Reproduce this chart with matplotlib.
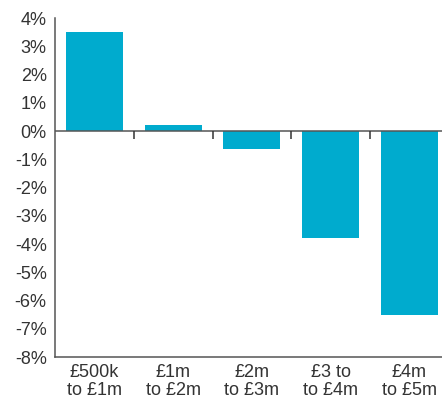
import matplotlib.pyplot as plt
import numpy as np

categories = ["£500k\nto £1m", "£1m\nto £2m", "£2m\nto £3m", "£3 to\nto £4m", "£4m\nto £5m"]
values = [3.5, 0.2, -0.65, -3.8, -6.5]
yticks = [4, 3, 2, 1, 0, -1, -2, -3, -4, -5, -6, -7, -8]

plt.rcParams['font.family'] = ['Liberation Sans', 'DejaVu Sans']
text_col = '#333333'

fig = plt.figure(figsize=(4.42, 4.01), dpi=100)
# plot area runs slightly past the right edge of the image, as in the original
ax = fig.add_axes([0.1244, 0.1097, 0.891, 0.8453])

x = np.arange(len(categories))
ax.bar(x, values, width=0.725, color='#00abce', zorder=2)

ax.set_xlim(-0.5, len(categories) - 0.5)
ax.set_ylim(-8, 4)
ax.set_yticks(yticks)
ax.set_yticklabels([f"{t}%" for t in yticks])
ax.set_xticks(x)
ax.set_xticklabels(categories, linespacing=1.1)
ax.tick_params(axis='both', length=0, labelsize=13, colors=text_col)
ax.tick_params(axis='y', pad=6)
ax.tick_params(axis='x', pad=5)

# zero line and category separators
ax.axhline(0, color='#555555', lw=1.1, zorder=3)
ax.vlines(x[:-1] + 0.5, -0.28, 0, color='#333333', lw=1.1, zorder=3)

for s in ['top', 'right']:
    ax.spines[s].set_visible(False)
for s in ['left', 'bottom']:
    ax.spines[s].set_color('#555555')
    ax.spines[s].set_linewidth(1.1)

fig.savefig('out.png', dpi=100)
